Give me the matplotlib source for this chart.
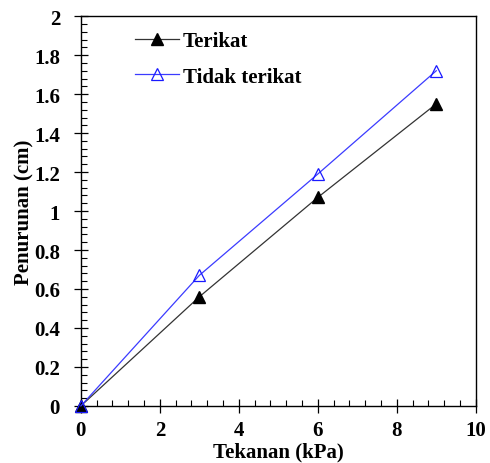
import matplotlib
matplotlib.use("Agg")
import matplotlib.pyplot as plt
from matplotlib.ticker import MultipleLocator, FuncFormatter

# ── Data ─────────────────────────────────────────────
tekanan       = [0, 3, 6, 9]
terikat       = [0.0, 0.56, 1.07, 1.55]
tidak_terikat = [0.0, 0.67, 1.19, 1.72]

plt.rcParams["font.family"] = ["Liberation Serif", "DejaVu Serif"]
plt.rcParams["font.weight"] = "bold"

fig = plt.figure(figsize=(4.9, 4.64), dpi=100)
ax = fig.add_axes([0.165, 0.123, 0.806, 0.840])

ax.plot(tekanan, terikat, color="#333333", lw=0.9, marker="^", ms=8,
        mfc="black", mec="black", label="Terikat", clip_on=False, zorder=3)
ax.plot(tekanan, tidak_terikat, color="#3b3bff", lw=0.9, marker="^", ms=8,
        mfc="none", mec="#1a1aff", mew=0.9, label="Tidak terikat",
        clip_on=False, zorder=4)

ax.set_xlim(0, 10)
ax.set_ylim(0, 2)
ax.xaxis.set_major_locator(MultipleLocator(2))
ax.xaxis.set_minor_locator(MultipleLocator(0.4))
ax.yaxis.set_major_locator(MultipleLocator(0.2))
ax.yaxis.set_minor_locator(MultipleLocator(0.04))
fmt = FuncFormatter(lambda v, p: f"{v:g}")
ax.xaxis.set_major_formatter(fmt)
ax.yaxis.set_major_formatter(fmt)

ax.tick_params(which="major", direction="inout", length=10, width=0.9,
               labelsize=15)
ax.tick_params(axis="x", which="major", pad=5)
ax.tick_params(axis="y", which="major", pad=10)
ax.tick_params(which="minor", direction="in", length=4, width=0.8)
for lab in ax.get_xticklabels() + ax.get_yticklabels():
    lab.set_fontweight("bold")
for s in ax.spines.values():
    s.set_linewidth(1.0)

ax.set_xlabel("Tekanan (kPa)", fontsize=15, fontweight="bold", labelpad=1)
ax.set_ylabel("Penurunan (cm)", fontsize=15, fontweight="bold", labelpad=0)

ax.legend(loc="upper left", bbox_to_anchor=(0.09, 1.01), frameon=False,
          handlelength=2.1, handletextpad=0.2, labelspacing=0.75,
          prop={"weight": "bold", "size": 15})

fig.savefig("out.png", dpi=100)
